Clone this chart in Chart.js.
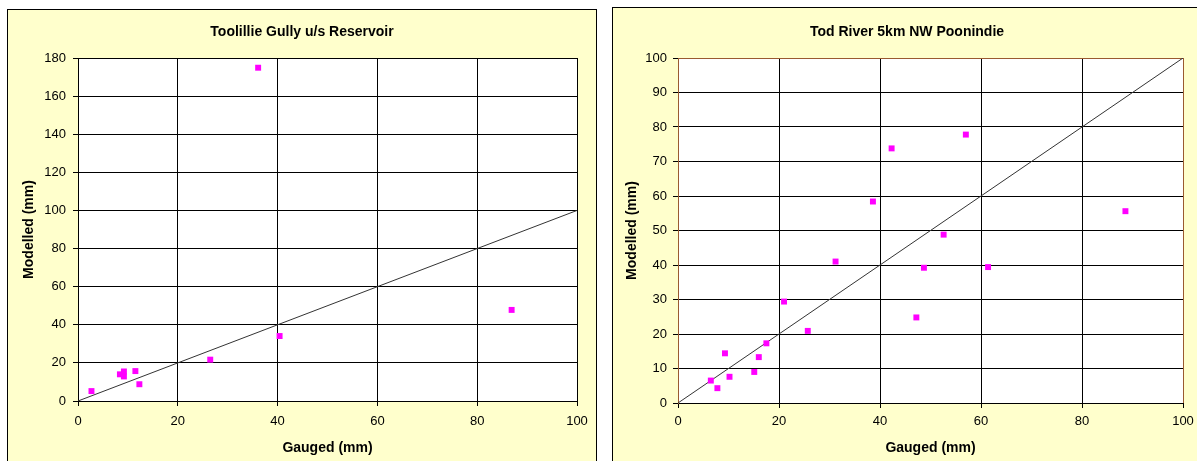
<!DOCTYPE html>
<html>
<head>
<meta charset="utf-8">
<script src="https://cdn.jsdelivr.net/npm/chart.js@4/dist/chart.umd.min.js"></script>
<style>
  html, body { margin: 0; padding: 0; background: #fff; width: 1197px; height: 461px; overflow: hidden; }
  .panel { position: absolute; background: #FFFFCC; border: 1px solid #000; }
  #leftPanel { left: 7px; top: 9px; width: 588px; height: 480px; }
  #rightPanel { left: 612px; top: 7px; width: 588px; height: 480px; }
  canvas { position: absolute; left: 0; top: 0; }
</style>
</head>
<body>
<div class="panel" id="leftPanel"><canvas id="leftChart" width="588" height="451"></canvas></div>
<div class="panel" id="rightPanel"><canvas id="rightChart" width="588" height="453"></canvas></div>
<script>
// Toolillie Gully u/s Reservoir
const leftGauged   = [2.7, 8.4, 9.2, 9.2, 11.5, 12.3, 26.5, 36.1, 40.4, 86.9];
const leftModelled = [5.2, 14.0, 15.5, 12.9, 15.7, 8.8, 21.7, 174.9, 34.1, 47.8];

// Tod River 5km NW Poonindie
const rightGauged   = [6.5, 7.8, 9.3, 10.2, 15.1, 16.0, 17.5, 21.0, 25.7, 31.2, 38.6, 42.3, 47.2, 48.7, 52.6, 57.0, 61.4, 88.6];
const rightModelled = [6.5, 4.3, 14.4, 7.6, 9.0, 13.3, 17.3, 29.4, 20.9, 41.0, 58.4, 73.8, 24.8, 39.2, 48.8, 77.8, 39.4, 55.6];

// 1:1 line end points
const oneToOne = [0, 100];

const FONT = "'Liberation Sans', Arial, sans-serif";
const BROWN = "#9A5A30";

// white plot area
const plotBg = {
  id: "plotBg",
  beforeDraw(chart) {
    const a = chart.chartArea;
    const ctx = chart.ctx;
    ctx.save();
    ctx.fillStyle = "#fff";
    ctx.fillRect(a.left, a.top, a.right - a.left, a.bottom - a.top);
    ctx.restore();
  },
};

function makeChart(id, cfg) {
  const pts = cfg.gx.map((x, i) => ({ x: x, y: cfg.gy[i] }));
  const line = oneToOne.map(v => ({ x: v, y: v }));
  const edge = (v, max) => (v === max ? cfg.edgeColor : "#000");

  return new Chart(document.getElementById(id), {
    type: "scatter",
    data: {
      datasets: [
        {
          data: pts,
          pointStyle: "rect",
          pointRadius: 4.2,
          pointBorderWidth: 0,
          backgroundColor: "#FF00FF",
          borderColor: "#FF00FF",
        },
        {
          data: line,
          showLine: true,
          pointRadius: 0,
          borderColor: "#333",
          borderWidth: 1,
        },
      ],
    },
    options: {
      responsive: false,
      animation: false,
      devicePixelRatio: 1,
      layout: { padding: 0 },
      plugins: {
        legend: { display: false },
        tooltip: { enabled: false },
        title: {
          display: true,
          text: cfg.title,
          color: "#000",
          font: { family: FONT, size: 14, weight: "bold" },
          padding: { top: cfg.titleTop, bottom: cfg.titleBottom },
        },
      },
      scales: {
        x: {
          type: "linear",
          min: 0,
          max: 100,
          afterFit: s => { s.height = cfg.xHeight; },
          ticks: { stepSize: 20, color: "#000", padding: cfg.xTickPad, font: { family: FONT, size: 13 }, maxRotation: 0 },
          grid: { color: c => edge(c.tick && c.tick.value, 100), tickColor: "#000", tickLength: 5, lineWidth: 1 },
          border: { color: "#000" },
          title: {
            display: true,
            text: "Gauged (mm)",
            color: "#000",
            font: { family: FONT, size: 14, weight: "bold" },
            padding: { top: 0, bottom: cfg.xTitlePad },
          },
        },
        y: {
          type: "linear",
          min: 0,
          max: cfg.yMax,
          afterFit: s => { s.width = cfg.yWidth; },
          ticks: { stepSize: cfg.yStep, color: "#000", padding: cfg.yTickPad, font: { family: FONT, size: 13 } },
          grid: { color: c => edge(c.tick && c.tick.value, cfg.yMax), tickColor: "#000", tickLength: 5, lineWidth: 1 },
          border: { color: cfg.yBorder },
          title: {
            display: true,
            text: "Modelled (mm)",
            color: "#000",
            font: { family: FONT, size: 14, weight: "bold" },
            padding: { top: cfg.yTitlePad, bottom: 0 },
          },
        },
        // empty spacer on the right so the title stays centred on the panel
        spacer: {
          type: "linear",
          position: "right",
          afterFit: s => { s.width = cfg.padRight; },
          ticks: { display: false },
          grid: { display: false, drawTicks: false },
          border: { display: false },
        },
      },
    },
    plugins: [plotBg],
  });
}

makeChart("leftChart", {
  title: "Toolillie Gully u/s Reservoir",
  gx: leftGauged,
  gy: leftModelled,
  yMax: 180,
  yStep: 20,
  yWidth: 70,
  xHeight: 60,
  padRight: 19,
  titleTop: 13.6,
  titleBottom: 17.6,
  xTickPad: 8,
  yTickPad: 7,
  xTitlePad: 4.8,
  yTitlePad: 12.5,
  edgeColor: "#000",
  yBorder: "#000",
});

makeChart("rightChart", {
  title: "Tod River 5km NW Poonindie",
  gx: rightGauged,
  gy: rightModelled,
  yMax: 100,
  yStep: 10,
  yWidth: 65,
  xHeight: 58,
  padRight: 18,
  titleTop: 15.3,
  titleBottom: 17.9,
  xTickPad: 6,
  yTickPad: 6,
  xTitlePad: 4.6,
  yTitlePad: 10.6,
  edgeColor: BROWN,
  yBorder: BROWN,
});
</script>
</body>
</html>
